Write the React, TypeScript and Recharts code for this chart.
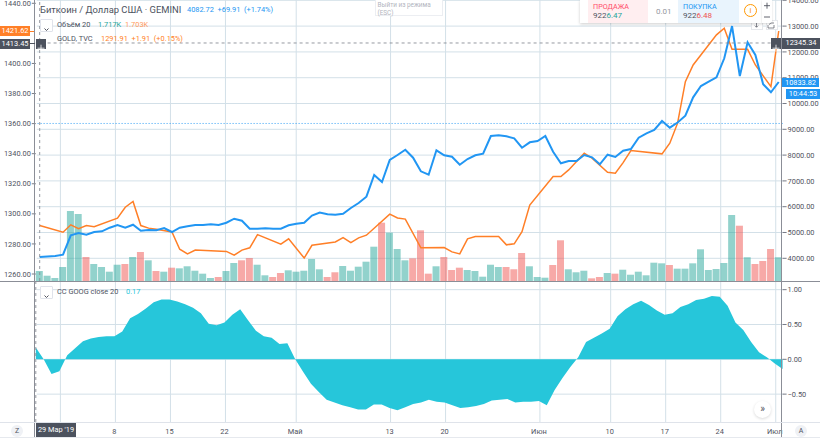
import React from "react";
import { ComposedChart, Line, Bar, Area, Cell, XAxis, YAxis, ReferenceLine } from "recharts";

const bitcoin = [4050,4070,4089,4140,4891,4981,4915,5019,5047,5186,5291,5186,5302,5070,5097,5085,5174,5019,5186,5240,5291,5291,5318,5291,5380,5535,5457,5147,5147,5163,5147,5147,5279,5341,5380,5659,5775,5705,5686,5725,5950,6143,6388,7229,6957,7810,8004,8209,7899,7372,7240,8186,7992,7938,7628,7849,7992,8054,8740,8767,8729,8651,8287,8496,8546,8740,8132,7682,7771,7771,8004,7915,7643,8015,7926,8171,8236,8674,8845,8973,9322,9062,9264,9527,10240,10678,10845,11016,11752,13000,11066,12372,11880,10744,10434,10834];
const n = null;
const gold = [1292.2,n,n,1287.8,1292.7,1290.2,1292.2,1291.5,n,n,1297.1,1304.4,1308.2,1292.2,1290.5,1289.8,n,1288,1276.5,1273.4,1275.9,n,n,n,1275,1272.5,1275.9,1277.4,1286.2,n,n,1279.9,1283.4,n,1270.6,1279.1,n,n,1281.3,1284.2,1280.9,1284,1285.8,n,n,1299.8,1297.3,1296.5,n,1277.4,n,n,1277.6,1274.7,1273.4,1283.4,1284.9,n,n,1284.9,1279.4,1280.1,1288.2,1305.8,n,n,1324.8,1324.8,1329.2,n,1340.3,1337,n,1327.7,1327,1334.1,1342.1,n,n,n,1339.9,1347,1360.3,1387.9,1399,n,n,1419,1423.4,1409.4,n,1409.4,1399,n,1384.6,1421.6];
const volume = [1.72,0.91,0.52,2.41,12.04,11.52,4.13,2.92,2.41,1.6,2.8,2.92,4.13,4.99,3.56,1.72,1.6,2.29,2.18,2.53,1.77,1.26,0.52,0.69,1.72,3.1,3.56,3.96,2.8,0.98,0.69,1.38,1.84,1.6,1.77,3.78,2.01,0.69,1.5,2.58,1.77,2.46,3.32,5.9,10.03,8.31,5.5,3.56,3.9,8.72,1.26,2.53,4.13,1.89,2.29,1.89,1.72,0.74,2.8,2.41,2.41,2.01,4.82,2.53,0.69,0.57,2.75,7,2.01,1.5,1.77,0.46,0.69,1.38,1.26,1.94,1.08,1.6,0.98,3.15,3.04,2.75,2.12,2.12,3.04,5.45,1.89,2.06,3.1,11.35,9.51,4.08,2.92,3.44,5.5,4.08];
const volumeDownDays = [6,11,13,15,17,23,26,27,30,31,37,38,44,48,49,50,52,53,54,60,61,62,66,67,71,72,74,81,90,92,93,94];
const cc = [0.17,0,-0.21,-0.17,0.06,0.16,0.26,0.3,0.32,0.33,0.33,0.4,0.59,0.65,0.73,0.82,0.86,0.86,0.83,0.79,0.74,0.66,0.51,0.49,0.53,0.64,0.72,0.56,0.41,0.33,0.31,0.22,0.23,0,-0.18,-0.35,-0.47,-0.58,-0.62,-0.66,-0.69,-0.72,-0.72,-0.65,-0.65,-0.7,-0.73,-0.69,-0.64,-0.62,-0.58,-0.61,-0.62,-0.66,-0.7,-0.69,-0.67,-0.64,-0.59,-0.58,-0.57,-0.62,-0.61,-0.61,-0.6,-0.66,-0.44,-0.27,-0.11,0.03,0.25,0.31,0.37,0.44,0.62,0.72,0.79,0.84,0.78,0.7,0.64,0.66,0.75,0.79,0.85,0.87,0.91,0.9,0.77,0.53,0.42,0.25,0.1,0.03,-0.06,-0.14];
const tickDays = [10,17,24,33,45,52,64,73,80,87,94];
const tickNames = ["8","15","22","Май","13","20","Июн","10","17","24","Июл"];
const gridDays = [3,10,17,24,33,45,52,64,73,80,87,94];
const goldTicks = [1260,1280,1300,1320,1340,1360,1380,1400,1440];
const btcTicks = [4000,5000,6000,7000,8000,9000,10000,11000,12000,13000,14000];
const ccTicks = [1,0.5,0,-0.5];
const btcDomain = [3120, 14012];
const ccDomain = [-0.9, 1.11];

const rows = bitcoin.map((b, i) => ({ day: i, btc: b, gold: gold[i], vol: volume[i], cc: cc[i] }));
const FONT = "Roboto, sans-serif";
const AXIS = "#50535e";
const GRID = "#d3e0e8";
const W = 820;
const L = 35.8;
const R = W - 782.6;
const tickStyle = { fontSize: 7.4, fontFamily: FONT, fill: AXIS };
const T = ({ x, y, c = "#4c525e", s = 7.4, children, w }: any) => (
  <div style={{ position: "absolute", left: x, top: y, color: c, fontSize: s, lineHeight: "10px", height: 10, whiteSpace: "pre", fontFamily: FONT, width: w, textAlign: w ? "center" : undefined }}>{children}</div>
);
const Box = ({ x, y, w, h, bg, style, children }: any) => (
  <div style={{ position: "absolute", left: x, top: y, width: w, height: h, background: bg, ...style }}>{children}</div>
);
const Tag = ({ x, y, w, h, bg, c = "#fff", children }: any) => (
  <div style={{ position: "absolute", left: x, top: y, width: w, height: h, background: bg, color: c, fontSize: 7.4, lineHeight: h + "px", textAlign: "center", fontFamily: FONT }}>{children}</div>
);
const Chev = ({ x, y }: any) => (
  <div style={{ position: "absolute", left: x, top: y, width: 11, height: 11, background: "#fff", border: "1px solid #e0e3eb", borderRadius: 1, boxSizing: "content-box" }}>
    <svg width="11" height="11"><path d="M3.5 4.5 L5.5 6.5 L7.5 4.5" stroke="#50535e" fill="none" strokeWidth="1" /></svg>
  </div>
);
const Plus = ({ x, y }: any) => (
  <div style={{ position: "absolute", left: x, top: y, width: 10, height: 10.5, background: "#4c525e" }}>
    <svg width="10" height="10.5"><path d="M1.5 5.2 H8.5 M5 1.7 V8.7" stroke="#fff" strokeWidth="0.8" /></svg>
  </div>
);
const GridLayer = ({ top, height, domain, values, pad }: any) => (
  <div style={{ position: "absolute", left: 0.7, top }}>
    <ComposedChart width={W} height={height} data={rows} margin={{ top: 0, right: 0, bottom: 0, left: 0 }}>
      <XAxis dataKey="day" hide />
      <YAxis orientation="left" width={L} domain={domain} tick={false} tickLine={false} axisLine={false} />
      <YAxis yAxisId="pad" orientation="right" width={R} tick={false} tickLine={false} axisLine={false} />
      {values.map((v: number) => (
        <ReferenceLine key={"h" + v} y={v} stroke={GRID} strokeWidth={1} />
      ))}
      {gridDays.map((d) => (
        <ReferenceLine key={"v" + d} x={d} stroke={GRID} strokeWidth={1} />
      ))}
      <Line dataKey={pad} stroke="none" dot={false} isAnimationActive={false} />
    </ComposedChart>
  </div>
);

export default function App() {
  return (
    <div style={{ position: "absolute", left: 0, top: 0, width: W, height: 441, overflow: "hidden", background: "#fff", fontFamily: FONT }}>
      <GridLayer top={0} height={281} domain={btcDomain} values={btcTicks} pad="btc" />
      <GridLayer top={282} height={140} domain={ccDomain} values={ccTicks} pad="cc" />
      <div style={{ position: "absolute", left: 0, top: 0 }}>
        <ComposedChart width={W} height={281} data={rows} margin={{ top: 0, right: 0, bottom: 0, left: 0 }} barCategoryGap={0.4}>
          <XAxis dataKey="day" hide />
          <YAxis yAxisId="gold" orientation="left" width={L} domain={[1255.35, 1442.2]} ticks={goldTicks} interval={0} axisLine={false} tickSize={4} tickMargin={1} tick={tickStyle} stroke="#787b86" tickFormatter={(v: number) => v.toFixed(2)} />
          <YAxis yAxisId="btc" orientation="right" width={R} domain={btcDomain} ticks={btcTicks} interval={0} axisLine={false} tickSize={4} tickMargin={1} tick={tickStyle} stroke="#787b86" tickFormatter={(v: number) => v.toFixed(2)} />
          <YAxis yAxisId="vol" hide domain={[0, 48.33]} />
          <Line yAxisId="gold" dataKey="gold" type="linear" stroke="#ff7f27" strokeWidth={1.5} dot={false} connectNulls isAnimationActive={false} />
          <Bar yAxisId="vol" dataKey="vol" barSize={7} isAnimationActive={false}>
            {rows.map((r) => (
              <Cell key={r.day} fill={volumeDownDays.includes(r.day) ? "#ef5350" : "#26a69a"} fillOpacity={0.5} />
            ))}
          </Bar>
          <Line yAxisId="btc" dataKey="btc" type="linear" stroke="#2196f3" strokeWidth={2} dot={false} isAnimationActive={false} />
          <ReferenceLine yAxisId="btc" y={9226} stroke="#2196f3" strokeDasharray="1 2" strokeWidth={0.9} />
          <ReferenceLine yAxisId="btc" y={12345.34} stroke="#8a8d96" strokeDasharray="3 3" strokeWidth={0.9} />
          <ReferenceLine yAxisId="btc" x={0} stroke="#8a8d96" strokeDasharray="3 3" strokeWidth={0.9} />
        </ComposedChart>
      </div>
      <div style={{ position: "absolute", left: 0, top: 282 }}>
        <ComposedChart width={W} height={155} data={rows} margin={{ top: 0, right: 0, bottom: 0, left: L }}>
          <XAxis dataKey="day" height={15} ticks={tickDays} interval={0} tickLine={false} axisLine={false} tickMargin={1} tick={tickStyle} tickFormatter={(v: number) => tickNames[tickDays.indexOf(v)]} />
          <YAxis orientation="right" width={R} domain={ccDomain} ticks={ccTicks} interval={0} axisLine={false} tickSize={4} tickMargin={1} tick={tickStyle} stroke="#787b86" tickFormatter={(v: number) => (v < 0 ? "\u2212" + Math.abs(v).toFixed(2) : v.toFixed(2))} />
          <Area dataKey="cc" type="linear" baseValue={0} stroke="none" fill="#26c6da" fillOpacity={1} isAnimationActive={false} />
          <ReferenceLine x={0} stroke="#8a8d96" strokeDasharray="3 3" strokeWidth={0.9} />
        </ComposedChart>
      </div>

      <Box x={34} y={0} w={1} h={437} bg="#8b8e97" />
      <Box x={781} y={0} w={1} h={437} bg="#8b8e97" />
      <Box x={0} y={281} w={W} h={1} bg="#8b8e97" />
      <Box x={0} y={422} w={W} h={1} bg="#dfe3ea" />
      <Box x={0} y={437} w={W} h={1} bg="#e6e9ee" />

      <T x={40} y={5} s={9.4}>Биткоин / Доллар США · GEMINI</T>
      <T x={187} y={5} c="#2196f3">4082.72  +69.91  (+1.74%)</T>
      <Chev x={40} y={18.5} />
      <T x={57} y={19.5}>Объём 20</T>
      <T x={98} y={19.5} c="#26a69a">1.717K</T>
      <T x={125} y={19.5} c="#ff9a5c">1.703K</T>
      <T x={57} y={34}>GOLD, TVC</T>
      <T x={101} y={34} c="#ff7f27">1291.91  +1.91  (+0.15%)</T>
      <Chev x={40} y={286} />
      <T x={57} y={286.5}>CC GOOG close 20</T>
      <T x={126} y={286.5} c="#26c6da">0.17</T>

      <Box x={375} y={-1} w={68} h={17} bg="#fff" style={{ border: "1px solid #eceef2", boxSizing: "border-box" }} />
      <T x={377.5} y={0} c="#b2b5be" s={6.4}>Выйти из режима</T>
      <T x={377.5} y={7.5} c="#b2b5be" s={6.4}>(ESC)</T>

      <Box x={750.5} y={20} w={12} h={10} bg="#fff" style={{ border: "1px solid #e6e8ec", boxSizing: "border-box" }} />
      <Box x={765.5} y={20} w={12} h={10} bg="#fff" style={{ border: "1px solid #e6e8ec", boxSizing: "border-box" }} />
      <Box x={580} y={0} w={182} h={23} bg="#fff" style={{ boxShadow: "0 1px 3px rgba(0,0,0,.2)" }} />
      <Box x={588} y={0} w={60} h={23} bg="#ffeef0" />
      <Box x={678} y={0} w={61} h={23} bg="#e9f4fd" />
      <T x={593} y={1.5} c="#ff4a68" s={7.2}>ПРОДАЖА</T>
      <T x={593} y={10.5} c="#50535e" s={8}>922<span style={{ color: "#26a69a" }}>6.47</span></T>
      <T x={656} y={6.5} c="#9598a1" s={8}>0.01</T>
      <T x={683} y={1.5} c="#2196f3" s={7.2}>ПОКУПКА</T>
      <T x={683} y={10.5} c="#50535e" s={8}>922<span style={{ color: "#ef5350" }}>6.48</span></T>
      <div style={{ position: "absolute", left: 744, top: 4, width: 13, height: 13, borderRadius: 7, border: "1px solid #ff9800", boxSizing: "border-box", color: "#ff9800", fontSize: 8, lineHeight: "11px", textAlign: "center" }}>i</div>
      <Box x={762} y={0} w={10} h={23} bg="#fff" style={{ boxShadow: "0 1px 2px rgba(0,0,0,.15)" }} />
      <svg style={{ position: "absolute", left: 762, top: 0 }} width="10" height="23"><path d="M2 5.7 H8 M5 2.7 V8.7 M2 17 H8" stroke="#50535e" strokeWidth="0.9" /></svg>
      <svg style={{ position: "absolute", left: 750, top: 22 }} width="28" height="8"><path d="M6.5 1 V5 M4.8 3.6 L6.5 5.3 L8.2 3.6 M18 3 V6 H24 V3 M19 2.5 L21 1 H24" stroke="#50535e" strokeWidth="0.7" fill="none" /></svg>

      <Tag x={0} y={26} w={30} h={10} bg="#ff7f27">1421.62</Tag>
      <Box x={30} y={30.5} w={4} h={1} bg="#ff7f27" />
      <Tag x={0} y={38.5} w={30} h={10.5} bg="#4c525e">1413.45</Tag>
      <Box x={30} y={43} w={5} h={1} bg="#4c525e" />
      <Plus x={35.5} y={38.5} />
      <Plus x={771} y={38} />
      <Tag x={782} y={38} w={38} h={10.5} bg="#4c525e">12345.34</Tag>
      <Tag x={782} y={77.5} w={37} h={9.5} bg="#2196f3">10833.82</Tag>
      <Tag x={786} y={89} w={34} h={10} bg="#2196f3">10:44:53</Tag>

      <Tag x={36} y={422.5} w={40} h={14} bg="#4c525e">29 Мар '19</Tag>
      <div style={{ position: "absolute", left: 11, top: 425, width: 12, height: 12, borderRadius: 6, background: "#eff1f5", color: AXIS, fontSize: 7, lineHeight: "12px", textAlign: "center" }}>Z</div>
      <div style={{ position: "absolute", left: 795, top: 425, width: 12, height: 12, borderRadius: 6, background: "#eff1f5", color: AXIS, fontSize: 7, lineHeight: "12px", textAlign: "center" }}>A</div>
      <div style={{ position: "absolute", left: 754, top: 401, width: 17, height: 17, borderRadius: 9, background: "#fff", boxShadow: "0 1px 3px rgba(0,0,0,.15)", color: AXIS, fontSize: 10, lineHeight: "15px", textAlign: "center" }}>»</div>
    </div>
  );
}
